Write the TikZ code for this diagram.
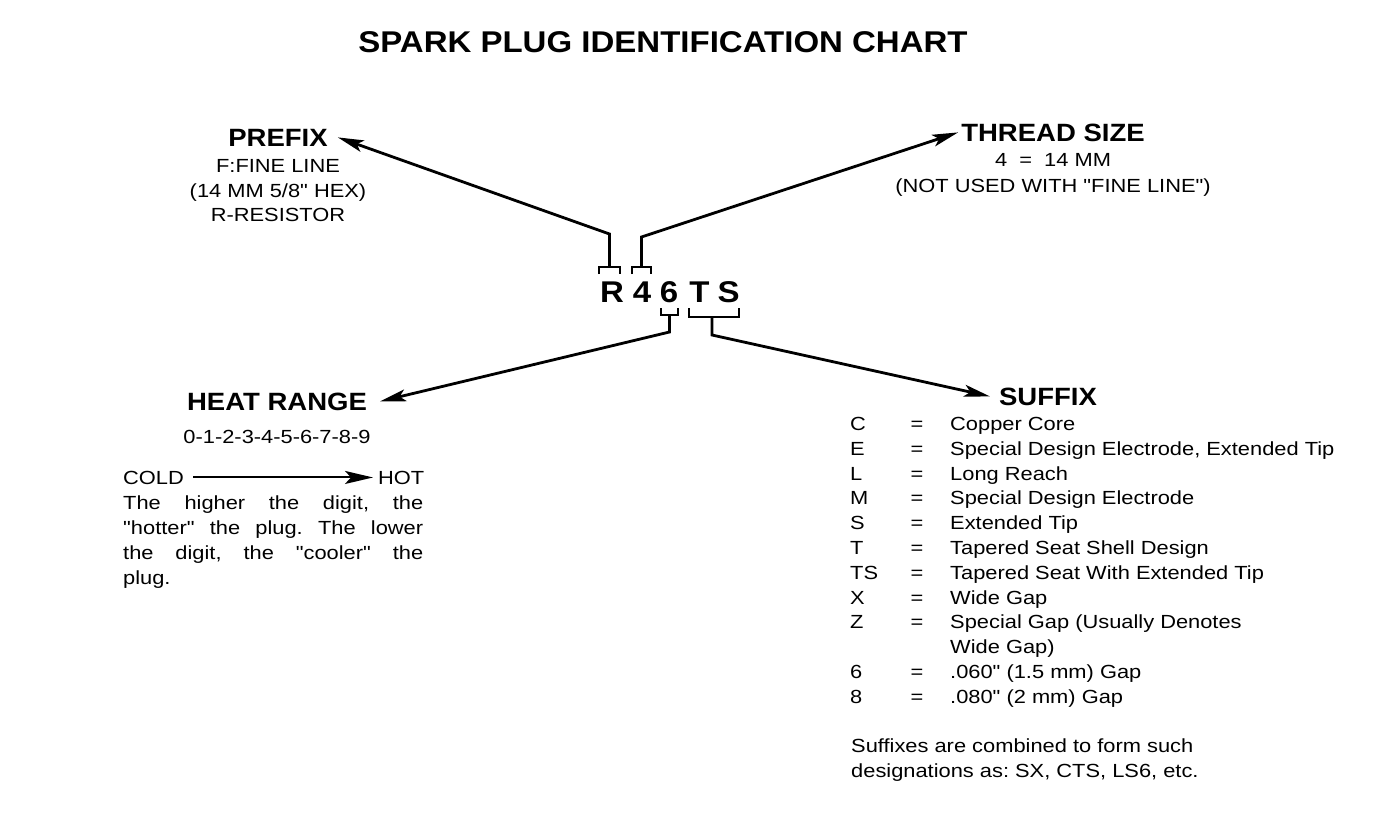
\documentclass[tikz,border=0pt]{standalone}
\usepackage{fontspec}
\newfontfamily\rg{Liberation Sans}[FakeStretch=1.15]
\newfontfamily\hd{Liberation Sans}[FakeStretch=1.1]
\usetikzlibrary{arrows.meta}
\frenchspacing
\tikzset{
  ttl/.style={font=\hd\bfseries\fontsize{30}{36}\selectfont, anchor=base, inner sep=0pt},
  head/.style={font=\hd\bfseries\fontsize{25}{30}\selectfont, anchor=base, inner sep=0pt},
  txt/.style={font=\rg\fontsize{19}{25}\selectfont, anchor=base, inner sep=0pt},
  txtl/.style={txt, anchor=base west},
  ltr/.style={font=\hd\bfseries\fontsize{30}{36}\selectfont, anchor=base, inner sep=0pt},
  conn/.style={line width=2.8pt, -{Stealth[length=26pt,width=12pt,inset=6pt]}},
  carrow/.style={line width=2pt, -{Stealth[length=28pt,width=13pt,inset=6pt]}},
  brk/.style={line width=2.6pt},
}
\begin{document}
\begin{tikzpicture}[x=1pt,y=-1pt]
\fill[white] (0,0) rectangle (1376,838);
\useasboundingbox (0,0) rectangle (1376,838);

% title
\node[ttl] (title) at (663,52) {SPARK PLUG IDENTIFICATION CHART};

% code letters
\node[ltr] (cR) at (612,302) {R};
\node[ltr] (c4) at (642,302) {4};
\node[ltr] (c6) at (669,302) {6};
\node[ltr] (cT) at (699.5,302) {T};
\node[ltr] (cS) at (728.5,302) {S};

% bracket coordinates
\coordinate (bR) at (609.5,267);
\coordinate (b4) at (641.5,267);
\coordinate (b6) at (669.5,315);
\coordinate (bTS) at (712,317);

% brackets
\draw[brk] ([xshift=-10.5pt,yshift=-7pt]bR) -- ([xshift=-10.5pt]bR) -- ([xshift=10.5pt]bR) -- ([xshift=10.5pt,yshift=-7pt]bR);
\draw[brk] ([xshift=-9.5pt,yshift=-7pt]b4) -- ([xshift=-9.5pt]b4) -- ([xshift=9.5pt]b4) -- ([xshift=9.5pt,yshift=-7pt]b4);
\draw[brk] ([xshift=-8.5pt,yshift=7pt]b6) -- ([xshift=-8.5pt]b6) -- ([xshift=8.5pt]b6) -- ([xshift=8.5pt,yshift=7pt]b6);
\draw[brk] ([xshift=-23pt,yshift=9pt]bTS) -- ([xshift=-23pt]bTS) -- ([xshift=27pt]bTS) -- ([xshift=27pt,yshift=9pt]bTS);

% PREFIX
\node[head, inner xsep=10pt] (prefix) at (278,146) {PREFIX};
\node[txt] (p1) at (278,172) {F:FINE LINE};
\node[txt] (p2) at (278,197) {(14 MM 5/8" HEX)};
\node[txt] (p3) at (278,221) {R-RESISTOR};

% THREAD SIZE
\node[head, inner xsep=3pt] (thread) at (1053,141) {THREAD SIZE};
\node[txt] (t1) at (1053,166) {4 \ = \ 14 MM};
\node[txt] (t2) at (1053,192) {(NOT USED WITH "FINE LINE")};

% HEAT RANGE
\node[head, inner xsep=13pt] (heat) at (277,410) {HEAT RANGE};
\node[txt] (h1) at (277,443) {0-1-2-3-4-5-6-7-8-9};
\node[txtl, inner xsep=0pt] (cold) at (123,484) {COLD};
\node[txtl] (hot) at (378,484) {HOT};
\draw[carrow] ([xshift=9pt]cold.east) -- ([xshift=-5pt]hot.west);
\node[txtl] (q1) at (123,509) {\makebox[300pt][s]{The higher the digit, the}};
\node[txtl] (q2) at (123,534) {\makebox[300pt][s]{"hotter" the plug. The lower}};
\node[txtl] (q3) at (123,559) {\makebox[300pt][s]{the digit, the "cooler" the}};
\node[txtl] (q4) at (123,584) {plug.};

% SUFFIX
\node[head, inner xsep=9pt] (suffix) at (1048,405) {SUFFIX};
\foreach \k/\d [count=\i] in {
  C/Copper Core,
  E/{Special Design Electrode, Extended Tip},
  L/Long Reach,
  M/Special Design Electrode,
  S/Extended Tip,
  T/Tapered Seat Shell Design,
  TS/Tapered Seat With Extended Tip,
  X/Wide Gap,
  Z/Special Gap (Usually Denotes}{
  \pgfmathsetmacro{\yy}{430.5+24.8*(\i-1)}
  \node[txtl] (sk\i) at (850,\yy) {\k};
  \node[txt] (se\i) at (917,\yy) {=};
  \node[txtl] (sd\i) at (950,\yy) {\d};
}
\node[txtl] (sd10) at (950,653.7) {Wide Gap)};
\node[txtl] (sk11) at (850,678.5) {6};
\node[txt] (se11) at (917,678.5) {=};
\node[txtl] (sd11) at (950,678.5) {.060" (1.5 mm) Gap};
\node[txtl] (sk12) at (850,703.3) {8};
\node[txt] (se12) at (917,703.3) {=};
\node[txtl] (sd12) at (950,703.3) {.080" (2 mm) Gap};

\node[txtl] (n1) at (851,752) {Suffixes are combined to form such};
\node[txtl] (n2) at (851,777) {designations as: SX, CTS, LS6, etc.};

% connectors
\draw[conn] (bR) -- ++(0,-33) -- (prefix.east);
\draw[conn] (b4) -- ++(0,-30) -- (thread.west);
\draw[conn] (b6) -- ++(0,17) -- (heat.east);
\draw[conn] (bTS) -- ++(0,18) -- (suffix.west);
\end{tikzpicture}
\end{document}
